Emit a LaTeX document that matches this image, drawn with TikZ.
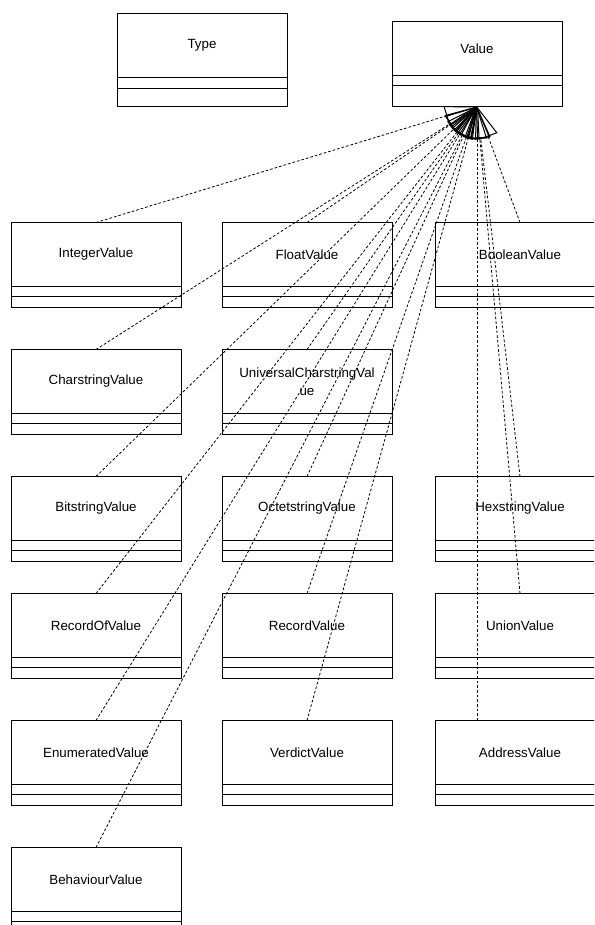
\documentclass[tikz,border=0pt]{standalone}
\usepackage{fontspec}
\setmainfont{Liberation Sans}
\usetikzlibrary{arrows.meta}

\tikzset{every picture/.style={line width=0.75pt}}
\tikzset{
  classname/.style={draw, rectangle, inner sep=0pt, outer sep=0pt, minimum width=127.5pt,
    minimum height=48pt, font=\fontsize{10}{13.5}\selectfont, align=center},
  realize/.style={line width=0.6pt, dash pattern=on 2pt off 1.5pt,
    -{Triangle[open, length=24pt, width=15pt, line width=0.75pt]}},
}

\begin{document}
\begin{tikzpicture}[x=0.75pt,y=0.75pt,yscale=-1,xscale=1]
\useasboundingbox (0,0) rectangle (594,925);
\clip (0,0) rectangle (594,925);

%Class: Type
\node[classname] (type) at (202,45.5) {Type};
%Class: Value
\node[classname, minimum height=40.5pt] (value) at (477,48.5) {Value};

%Row 1
\node[classname] (intval) at (96,254.5) {IntegerValue};
\node[classname] (floatval) at (307,254.5) {FloatValue};
\node[classname] (boolval) at (520,254.5) {BooleanValue};
%Row 2
\node[classname] (charval) at (96,381.5) {CharstringValue};
\node[classname] (ucharval) at (307,381.5) {UniversalCharstringVal\\ue};
%Row 3
\node[classname] (bitval) at (96,508.5) {BitstringValue};
\node[classname] (octval) at (307,508.5) {OctetstringValue};
\node[classname] (hexval) at (520,508.5) {HexstringValue};
%Row 4
\node[classname] (recofval) at (96,625.5) {RecordOfValue};
\node[classname] (recval) at (307,625.5) {RecordValue};
\node[classname] (unionval) at (520,625.5) {UnionValue};
%Row 5
\node[classname] (enumval) at (96,752.5) {EnumeratedValue};
\node[classname] (verdval) at (307,752.5) {VerdictValue};
\node[classname] (addrval) at (520,752.5) {AddressValue};
%Row 6
\node[classname] (behval) at (96,879.5) {BehaviourValue};

%Compartments below the names
\foreach \n/\a/\b in {type/11/18, value/10/21, intval/10/11, floatval/10/11, boolval/10/11,
    charval/10/11, ucharval/10/11, bitval/10/11, octval/10/11, hexval/10/11,
    recofval/10/11, recval/10/11, unionval/10/11, enumval/10/11, verdval/10/11,
    addrval/10/11, behval/10/11}
  \draw (\n.south west) rectangle ++(170,\a) ++(-170,0) rectangle ++(170,\b)
    ++(-85,0) coordinate (\n-foot);

%Realizations of Value
\foreach \n in {intval, floatval, boolval, charval, ucharval, bitval, octval, hexval,
    recofval, recval, unionval, enumval, verdval, behval}
  \draw[realize] (\n.north) -- (value-foot);
\draw[realize] (addrval.north -| value-foot) -- (value-foot);

\end{tikzpicture}
\end{document}
